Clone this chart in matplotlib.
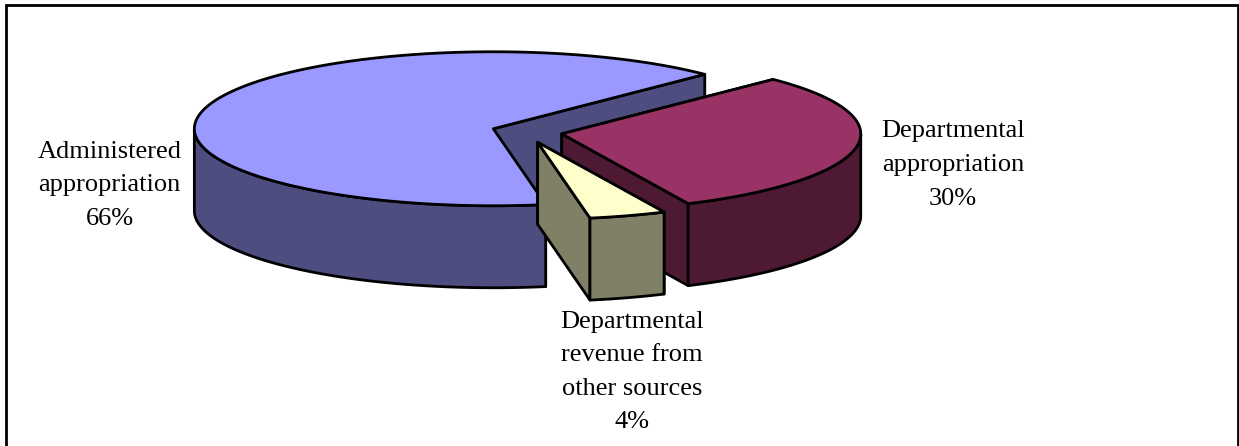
import numpy as np
import matplotlib
matplotlib.use("Agg")
import matplotlib.pyplot as plt
from matplotlib.patches import Polygon, Rectangle

# Data (clockwise from the start angle)
categories = ["Departmental\nappropriation", "Departmental\nrevenue from\nother sources", "Administered\nappropriation"]
values = [30.55, 4.15, 65.3]
percent_labels = ["30%", "4%", "66%"]
top_colors = ["#993366", "#FFFFCC", "#9999FF"]
side_colors = ["#4D1933", "#808066", "#4D4D80"]

# Layout (pixels)
W, H = 1239, 446
CX, CY = 527, 132
A, B = 299, 77
DEPTH = 82
EXPLODE_X, EXPLODE_Y = 0.118, 0.14
START = 45.0
LW = 2.0
label_pos = [(953, 165), (632, 372), (109.5, 185.5)]

fig = plt.figure(figsize=(W / 100, H / 100), dpi=100)
ax = fig.add_axes([0, 0, 1, 1])
ax.set_xlim(0, W)
ax.set_ylim(H, 0)
ax.axis("off")

ax.add_patch(Rectangle((5.5, 5), 1232.5, 460, fc="white", ec="black", lw=2.0, zorder=0))

def pt(c, ang):
    r = np.radians(ang)
    return np.column_stack([c[0] + A * np.cos(r), c[1] - B * np.sin(r)])

def poly(xy, fc, z):
    ax.add_patch(Polygon(xy, closed=True, fc=fc, ec="black", lw=LW, joinstyle="round", zorder=z))

# slices in clockwise order
angles = []
a0 = START
for v in values:
    a1 = a0 - v / sum(values) * 360
    angles.append((a0, a1))
    a0 = a1

down = np.array([0, DEPTH])
for z_base, i in [(3, 2), (5, 0), (7, 1)]:  # back slice first, small slice last
    a0, a1 = angles[i]
    mid = np.radians((a0 + a1) / 2)
    c = np.array([CX + EXPLODE_X * A * np.cos(mid), CY - EXPLODE_Y * B * np.sin(mid)])
    arc_angles = np.linspace(a0, a1, 300)
    arc = pt(c, arc_angles)

    # straight cut faces
    for ang in (a0, a1):
        p = pt(c, np.array([ang]))[0]
        poly(np.array([c, p, p + down, c + down]), side_colors[i], z_base)

    # outer rim, only its front-facing part
    s = np.sin(np.radians(arc_angles)) < 0
    front = arc[s]
    if len(front):
        poly(np.vstack([front, (front + down)[::-1]]), side_colors[i], z_base + 0.5)
    poly(np.vstack([c, arc]), top_colors[i], z_base + 1)

font = dict(family=["Liberation Serif", "DejaVu Serif"], fontsize=19, color="black", zorder=10,
            linespacing=1.68, va="center", ha="center")
for name, pct, (x, y) in zip(categories, percent_labels, label_pos):
    ax.text(x, y, f"{name}\n{pct}", **font)

fig.savefig("out.png", dpi=100)
